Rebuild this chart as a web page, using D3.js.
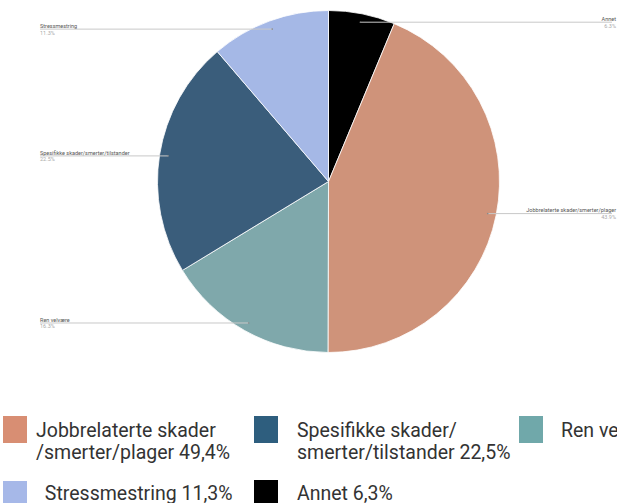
<!DOCTYPE html>
<html>
<head>
<meta charset="utf-8">
<script src="https://cdn.jsdelivr.net/npm/d3@7"></script>
<style>
  html, body { margin: 0; padding: 0; background: #fff; overflow: hidden; }
  svg { display: block; font-family: Roboto, "Noto Sans", sans-serif; }
</style>
</head>
<body>
<svg id="chart" width="617" height="503"></svg>
<script>
// Data (legend order)
const categories = ["Jobbrelaterte skader/smerter/plager", "Spesifikke skader/smerter/tilstander", "Ren velvære", "Stressmestring", "Annet"];
const values = [43.9, 22.5, 16.3, 11.3, 6.3];
const sliceLabels = ["43.9%", "22.5%", "16.3%", "11.3%", "6.3%"];
const legendLines = [
  ["Jobbrelaterte skader", "/smerter/plager 49,4%"],
  ["Spesifikke skader/", "smerter/tilstander 22,5%"],
  ["Ren velvære 16,3%"],
  [" Stressmestring 11,3%"],
  ["Annet 6,3%"]
];
const pieOrder = [4, 0, 2, 1, 3]; // clockwise from 12 o'clock
const colors = ["#CF937A", "#3A5D7B", "#7FA8AB", "#A5B8E6", "#000000"];
const legendColors = ["#D88E73", "#2E5E7E", "#70A8AA", "#A6B8E8", "#000000"];

const svg = d3.select("#chart");
const cx = 328.5, cy = 181.5, r = 171;

const pieData = pieOrder.map(i => ({ i, v: values[i] }));
const pie = d3.pie().sort(null).value(d => d.v);
const arcs = pie(pieData);
const arc = d3.arc().innerRadius(0).outerRadius(r);

const g = svg.append("g").attr("transform", `translate(${cx},${cy})`);
g.selectAll("path").data(arcs).join("path")
  .attr("d", arc)
  .attr("fill", d => colors[d.data.i])
  .attr("stroke", "#fff").attr("stroke-width", 0.8);

// Leader labels
const side = { 0: "right", 1: "left", 2: "left", 3: "left", 4: "right" };
arcs.forEach(a => {
  const i = a.data.i;
  const mid = (a.startAngle + a.endAngle) / 2;
  const px = Math.sin(mid) * r * 0.95;
  const py = -Math.cos(mid) * r * 0.95;
  const lg = svg.append("g");
  const ax = cx + px, ay = cy + py;
  const isRight = side[i] === "right";
  const endX = isRight ? 612 : 40;
  lg.append("line").attr("x1", ax).attr("y1", ay).attr("x2", endX).attr("y2", ay)
    .attr("stroke", "#c8c8c8").attr("stroke-width", 1);
  lg.append("circle").attr("cx", ax).attr("cy", ay).attr("r", 0.8).attr("fill", "#888");
  const tx = isRight ? 616 : 40;
  lg.append("text").attr("x", tx).attr("y", ay - 1.2)
    .attr("text-anchor", isRight ? "end" : "start")
    .attr("font-size", 5.5).attr("fill", "#555").text(categories[i]);
  lg.append("text").attr("x", tx).attr("y", ay + 5.5)
    .attr("text-anchor", isRight ? "end" : "start")
    .attr("font-size", 5.5).attr("fill", "#aaa").text(sliceLabels[i]);
});

// Legend
const legendPos = [
  { sx: 3, sy: 416, tx: 36, ty: 437 },
  { sx: 254, sy: 416, tx: 297, ty: 437 },
  { sx: 519, sy: 416, tx: 561, ty: 437 },
  { sx: 3, sy: 481, tx: 40, ty: 500 },
  { sx: 254, sy: 480, tx: 297, ty: 500 }
];
const leg = svg.append("g");
categories.forEach((c, i) => {
  const p = legendPos[i];
  leg.append("rect").attr("x", p.sx).attr("y", p.sy).attr("width", 24).attr("height", 27)
    .attr("fill", legendColors[i]);
  const t = leg.append("text")
    .attr("font-size", 19.5).attr("fill", "#333")
    .style("white-space", "pre");
  legendLines[i].forEach((line, j) => {
    t.append("tspan").attr("x", p.tx).attr("y", p.ty + j * 21.5).text(line);
  });
});
</script>
</body>
</html>
